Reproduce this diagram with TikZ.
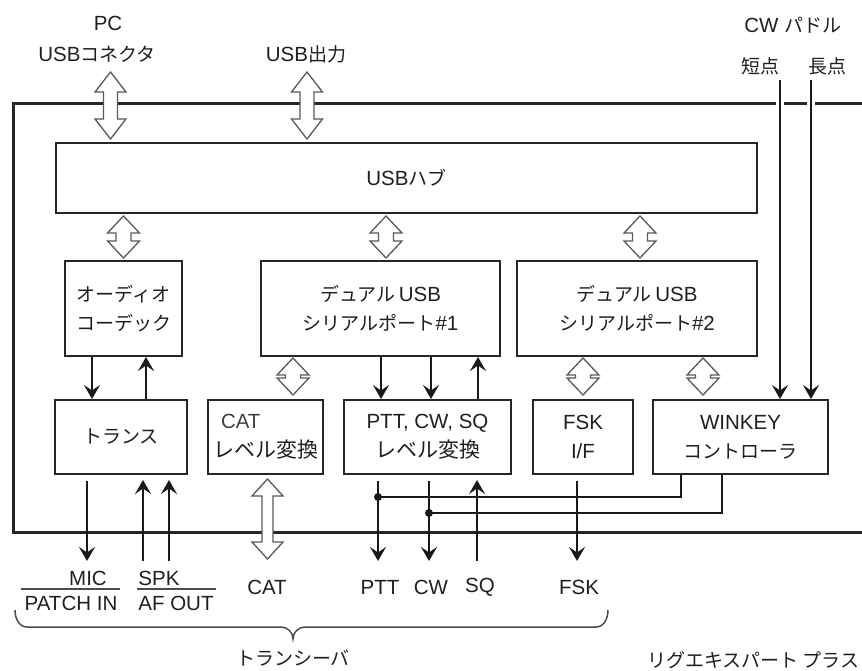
\documentclass[tikz,border=0pt]{standalone}
\usepackage{fontspec}
\setmainfont{Liberation Sans}
\newfontfamily\jpf{Noto Sans CJK JP}
\usetikzlibrary{arrows.meta,calc}
\newcommand\J[1]{{\fontsize{19}{24}\selectfont\jpf #1}}
\newcommand\JL[1]{{\fontsize{21}{24}\selectfont\jpf #1}}
\newcommand\darr[5]{\draw[hollow] let \p1=(#1), \p2=(#2) in
  (\x1-#3,\y1-#5) -- (\x1,\y1) -- (\x1+#3,\y1-#5) -- (\x1+#4,\y1-#5) -- (\x1+#4,\y2+#5)
  -- (\x1+#3,\y2+#5) -- (\x1,\y2) -- (\x1-#3,\y2+#5) -- (\x1-#4,\y2+#5) -- (\x1-#4,\y1-#5) -- cycle;}
\begin{document}
\begin{tikzpicture}[x=1pt,y=-1pt,
  txt/.style={font=\fontsize{20.5}{29}\selectfont, text=black!88, inner sep=0pt, align=center},
  blk/.style={draw=black!85, line width=2pt, fill=white, inner sep=0pt,
    font=\fontsize{20.5}{29}\selectfont, text=black!88, align=center},
  arr/.style={line width=2.5pt, draw=black!90, -{Stealth[length=14pt,width=16pt,inset=5.5pt]}},
  wire/.style={line width=2.5pt, draw=black!90},
  hollow/.style={draw=black!65, line width=1.3pt, fill=white, line join=miter},
  halo/.style={draw=white, line width=8pt}]
\useasboundingbox (0,0) rectangle (862,671);

% outer box (cut off on the right)
\draw[line width=3pt, black!85] (862,104) -- (13,104) -- (13,532) -- (862,532);

% blocks
\node[blk, minimum width=701pt, minimum height=70pt] (hub) at (406.5,178) {USB\J{ハブ}};
\node[blk, minimum width=117pt, minimum height=95pt] (audio) at (123.5,308.5) {\J{オーディオ}\\\J{コーデック}};
\node[blk, minimum width=239pt, minimum height=95pt] (dual1) at (380.5,308.5) {\J{デュアル}\,USB\\\J{シリアルポート}\#1};
\node[blk, minimum width=240pt, minimum height=95pt] (dual2) at (637,308.5) {\J{デュアル}\,USB\\\J{シリアルポート}\#2};
\node[blk, minimum width=132pt, minimum height=74pt] (trans) at (121,437) {\J{トランス}};
\node[blk, minimum width=115pt, minimum height=74pt, align=left] (cat) at (265.5,437) {\hspace*{8pt}{\color{black!75}CAT}\\\JL{レベル変換}};
\node[blk, minimum width=167pt, minimum height=74pt] (ptt) at (427.5,437) {PTT, CW, SQ\\\JL{レベル変換}};
\node[blk, minimum width=100pt, minimum height=74pt] (fsk) at (583,437) {FSK\\I/F};
\node[blk, minimum width=175pt, minimum height=74pt] (wk) at (740.5,437) {WINKEY\\\J{コントローラ}};

% labels
\node[txt] (pc) at (108,23) {PC};
\node[txt] (usbc) at (97,54) {USB\J{コネクタ}};
\node[txt] (usbo) at (306,54) {USB\J{出力}};
\node[txt] (cwp) at (793,25) {CW \J{パドル}};
\node[txt] (tan) at (760,66) {\J{短点}};
\node[txt] (cho) at (827,66) {\J{長点}};
\node[txt] (mic) at (88,578) {MIC};
\node[txt] (patch) at (71,603) {PATCH IN};
\node[txt] (spk) at (159,578) {SPK};
\node[txt] (afout) at (176,603) {AF OUT};
\node[txt] (catl) at (267,587) {CAT};
\node[txt] (pttl) at (380,587) {PTT};
\node[txt] (cwl) at (431,587) {CW};
\node[txt] (sql) at (480,587) {SQ};
\node[txt] (fskl) at (579,587) {FSK};
\node[txt] (trx) at (293,658) {\J{トランシーバ}};
\node[txt, anchor=west] (rig) at (647,660) {\J{リグエキスパート プラス}};

\draw[line width=1.5pt, black!70] (21,589) -- (120,589);
\draw[line width=1.5pt, black!70] (137,589) -- (216,589);

% helper coordinates
\coordinate (pcTop) at (110.5,72);
\coordinate (usbTop) at (307,72);
\coordinate (xs1) at (386,0);
\coordinate (xs2) at (640,0);
\coordinate (xs3) at (293,0);
\coordinate (xs4) at (703,0);
\coordinate (ca1) at (92,0);
\coordinate (ca2) at (146,0);
\coordinate (cd1) at (381,0);
\coordinate (cd2) at (431,0);
\coordinate (cd3) at (478,0);
\coordinate (pd1) at (780,80);
\coordinate (pd2) at (811,80);
\coordinate (cM) at (87,0);
\coordinate (cS1) at (143,0);
\coordinate (cS2) at (169,0);
\coordinate (cP) at (378,0);
\coordinate (cC) at (429,0);
\coordinate (cQ) at (477,0);
\coordinate (cF) at (577,0);
\coordinate (cW1) at (681,0);
\coordinate (cW2) at (722,0);
\coordinate (tipy) at (0,561);
\coordinate (jy1) at (0,497);
\coordinate (jy2) at (0,513);

% hollow double arrows
\darr{pcTop}{$(hub.north -| pcTop)+(0,-3)$}{15.5pt}{7pt}{20pt}
\darr{usbTop}{$(hub.north -| usbTop)+(0,-3)$}{15.5pt}{7pt}{20pt}
\darr{$(hub.south -| audio.north)+(0,2)$}{$(audio.north)+(0,-2)$}{16pt}{7.5pt}{17pt}
\darr{$(hub.south -| xs1)+(0,2)$}{$(dual1.north -| xs1)+(0,-2)$}{16pt}{7.5pt}{17pt}
\darr{$(hub.south -| xs2)+(0,2)$}{$(dual2.north -| xs2)+(0,-2)$}{16pt}{7.5pt}{17pt}
\darr{$(dual1.south -| xs3)+(0,1)$}{$(cat.north -| xs3)+(0,-4)$}{16pt}{7.5pt}{17pt}
\darr{$(dual2.south -| fsk.north)+(0,1)$}{$(fsk.north)+(0,-4)$}{16pt}{7.5pt}{17pt}
\darr{$(dual2.south -| xs4)+(0,1)$}{$(wk.north -| xs4)+(0,-4)$}{16pt}{7.5pt}{17pt}
\darr{$(cat.south)+(2,4)$}{$(cat.south |- tipy)+(2,-2)$}{15.5pt}{5.5pt}{17pt}

% audio <-> trans
\draw[arr] (audio.south -| ca1) -- (trans.north -| ca1);
\draw[arr] (trans.north -| ca2) -- (audio.south -| ca2);
% dual1 <-> ptt
\draw[arr] (dual1.south -| cd1) -- (ptt.north -| cd1);
\draw[arr] (dual1.south -| cd2) -- (ptt.north -| cd2);
\draw[arr] (ptt.north -| cd3) -- (dual1.south -| cd3);
% paddle
\draw[halo] ($(pd1 |- 0,104)+(0,-5)$) -- ($(pd1 |- 0,104)+(0,5)$);
\draw[halo] ($(pd2 |- 0,104)+(0,-5)$) -- ($(pd2 |- 0,104)+(0,5)$);
\draw[arr] (pd1) -- (pd1 |- wk.north);
\draw[arr] (pd2) -- (pd2 |- wk.north);
% trans outputs
\draw[arr] ([yshift=-6pt]trans.south -| cM) -- (cM |- tipy);
\draw[arr] (cS1 |- tipy) -- ([yshift=-5pt]trans.south -| cS1);
\draw[arr] (cS2 |- tipy) -- ([yshift=-5pt]trans.south -| cS2);
% ptt/cw/sq/fsk
\draw[wire] (wk.south -| cW1) |- (cP |- jy1);
\draw[wire] (wk.south -| cW2) |- (cC |- jy2);
\draw[arr] ([yshift=-6pt]ptt.south -| cP) -- (cP |- tipy);
\draw[arr] ([yshift=-6pt]ptt.south -| cC) -- (cC |- tipy);
\draw[arr] (cQ |- tipy) -- ([yshift=-5pt]ptt.south -| cQ);
\draw[arr] ([yshift=-6pt]fsk.south -| cF) -- (cF |- tipy);
\fill[black!90] (cP |- jy1) circle (4pt);
\fill[black!90] (cC |- jy2) circle (4pt);

% brace
\draw[line width=1.5pt, black!70] (15,610) to[out=-90,in=180] (27,627) -- (281,627)
  to[out=0,in=90] (293,639) to[out=90,in=180] (305,627) -- (596,627) to[out=0,in=-90] (608,610);
\end{tikzpicture}
\end{document}
